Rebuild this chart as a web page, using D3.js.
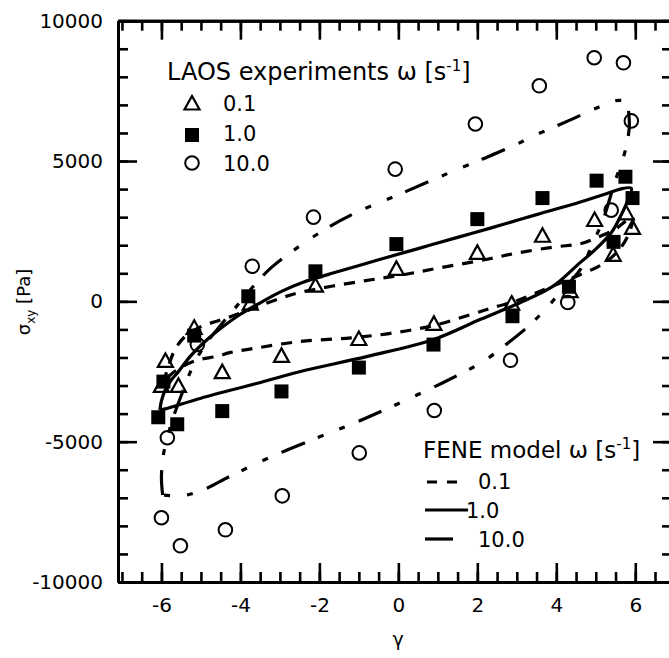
<!DOCTYPE html>
<html>
<head>
<meta charset="utf-8">
<script src="https://cdn.jsdelivr.net/npm/d3@7"></script>
<style>
  body { margin: 0; background: #fff; }
  text { font-family: "DejaVu Sans", "Liberation Sans", Arial, sans-serif; fill: #000; }
</style>
</head>
<body>
<svg id="chart" width="669" height="658"></svg>
<script>
// ---- LAOS experiments (strain gamma, shear stress sigma_xy in Pa) ----
const omegaLabels = ["0.1", "1.0", "10.0"];

const exp01Gamma = [-6.0, -5.9, -5.57, -5.17, -4.46, -3.75, -2.96, -2.1, -1.0, -0.05, 0.9, 2.0, 2.87, 3.65, 4.35, 4.97, 5.44, 5.77, 5.93];
const exp01Sigma = [-3030, -2140, -3030, -960, -2540, -100, -1960, 540, -1360, 1140, -820, 1710, -100, 2320, 350, 2880, 1640, 3120, 2600];

const exp1Gamma = [-6.08, -5.95, -5.6, -5.17, -4.46, -3.8, -2.96, -2.1, -1.0, -0.05, 0.89, 2.0, 2.89, 3.65, 4.32, 5.02, 5.45, 5.75, 5.93];
const exp1Sigma = [-4130, -2860, -4380, -1220, -3910, 180, -3210, 1070, -2360, 2040, -1540, 2930, -530, 3680, 520, 4300, 2120, 4440, 3680];

const exp10Gamma = [-6.0, -5.85, -5.52, -5.09, -4.38, -3.7, -2.94, -2.15, -0.99, -0.08, 0.91, 1.95, 2.84, 3.57, 4.29, 4.96, 5.39, 5.7, 5.9];
const exp10Sigma = [-7710, -4860, -8710, -1540, -8140, 1250, -6930, 3000, -5400, 4710, -3890, 6320, -2100, 7680, -40, 8680, 3250, 8500, 6430];

// ---- FENE model loops, traced as closed (gamma, sigma) paths ----
const fene01 = [
  [-5.95, -2900], [-5.82, -2300], [-5.65, -1700], [-5.4, -1250], [-5.0, -900], [-4.56, -690],
  [-4.0, -420], [-3.11, 50], [-2.48, 320], [-1.0, 700], [0.05, 930], [1.0, 1180], [2.25, 1500],
  [3.0, 1720], [3.97, 1940], [4.6, 2050], [4.99, 2250], [5.49, 2570], [5.75, 2850], [5.93, 3000],
  [5.85, 2450], [5.6, 1850], [5.3, 1450], [5.05, 1230], [4.6, 950], [4.18, 700], [3.59, 360],
  [3.0, 20], [2.5, -180], [2.08, -360], [0.89, -860], [-0.2, -1140], [-1.2, -1300], [-2.48, -1430],
  [-3.8, -1710], [-4.25, -1820], [-4.6, -1960], [-5.1, -2100], [-5.5, -2350], [-5.8, -2650], [-5.95, -2900]
];

const fene1 = [
  [-6.04, -3870], [-6.0, -3550], [-5.9, -3140], [-5.75, -2800], [-5.59, -2540], [-5.27, -1960],
  [-4.84, -1360], [-4.43, -890], [-4.0, -460], [-3.57, -110], [-3.0, 330], [-2.41, 680],
  [-1.5, 1070], [-0.5, 1480], [0.5, 1880], [1.5, 2280], [2.33, 2610], [3.5, 3090], [4.61, 3540],
  [5.3, 3850], [5.62, 4000], [5.9, 4030],
  [5.82, 3640], [5.65, 3100], [5.4, 2460], [5.0, 1860], [4.61, 1390], [3.92, 540], [3.09, -40],
  [2.08, -640], [0.89, -1360], [-0.78, -1960], [-2.48, -2500], [-3.49, -2890], [-5.0, -3450],
  [-5.9, -3830], [-6.04, -3870]
];

const fene10 = [
  [-5.97, -6900], [-6.0, -6250], [-5.95, -5460], [-5.85, -4860], [-5.72, -4210], [-5.44, -3140],
  [-5.2, -2300], [-4.89, -1540], [-4.5, -850], [-4.1, -180], [-3.62, 620], [-3.22, 1200],
  [-2.61, 1860], [-1.85, 2570], [-1.09, 3150], [-0.13, 3720], [0.81, 4290], [1.32, 4600],
  [2.13, 5070], [2.91, 5540], [3.42, 5890], [4.30, 6430], [5.04, 6900], [5.5, 7150], [5.75, 7100],
  [5.85, 6400], [5.8, 5700], [5.70, 5140], [5.49, 4290], [5.19, 2930], [4.95, 2150], [4.61, 1140],
  [4.10, 320], [3.72, -290], [3.29, -890], [2.66, -1610], [2.15, -2140], [1.14, -2890],
  [0.05, -3610], [-1.04, -4290], [-2.05, -4860], [-3.22, -5540], [-4.23, -6210], [-5.0, -6750],
  [-5.5, -6930], [-5.97, -6900]
];

// ---- axis ticks ----
const xMajorTicks = [-6, -4, -2, 0, 2, 4, 6];
const xMinorTicks = d3.range(-7, 7.01, 0.5);
const yMajorTicks = [-10000, -5000, 0, 5000, 10000];
const yMinorTicks = d3.range(-10000, 10001, 1000);

// ---- layout ----
const svg = d3.select("#chart");
const x = d3.scaleLinear().domain([-7.1, 6.93]).range([118, 672]);
const y = d3.scaleLinear().domain([-10000, 10000]).range([582, 20.7]);

const axisStroke = 3;
const majorLen = 19, minorLen = 10;
const plainNum = d => String(d);

function styleAxis(g) {
  g.select(".domain").attr("stroke-width", axisStroke).attr("stroke", "#000");
  g.selectAll(".tick line").attr("stroke-width", 2.6).attr("stroke", "#000");
  g.selectAll(".tick text")
    .style("font-family", '"DejaVu Sans", sans-serif')
    .style("font-size", "20px").attr("fill", "#000");
}

// bottom axis
svg.append("g").attr("transform", `translate(0,${y.range()[0]})`)
  .call(d3.axisBottom(x).tickValues(xMinorTicks).tickSize(-minorLen).tickSizeOuter(0).tickFormat(""))
  .call(styleAxis);
svg.append("g").attr("transform", `translate(0,${y.range()[0]})`)
  .call(d3.axisBottom(x).tickValues(xMajorTicks).tickSize(-majorLen).tickSizeOuter(0).tickPadding(16).tickFormat(plainNum))
  .call(styleAxis);

// top axis
svg.append("g").attr("transform", `translate(0,${y.range()[1]})`)
  .call(d3.axisTop(x).tickValues(xMinorTicks).tickSize(-minorLen).tickSizeOuter(0).tickFormat(""))
  .call(styleAxis);
svg.append("g").attr("transform", `translate(0,${y.range()[1]})`)
  .call(d3.axisTop(x).tickValues(xMajorTicks).tickSize(-majorLen).tickSizeOuter(0).tickFormat(""))
  .call(styleAxis);

// left axis
svg.append("g").attr("transform", `translate(${x.range()[0]},0)`)
  .call(d3.axisLeft(y).tickValues(yMinorTicks).tickSize(-minorLen).tickSizeOuter(0).tickFormat(""))
  .call(styleAxis);
svg.append("g").attr("transform", `translate(${x.range()[0]},0)`)
  .call(d3.axisLeft(y).tickValues(yMajorTicks).tickSize(-majorLen).tickSizeOuter(0).tickPadding(15).tickFormat(plainNum))
  .call(styleAxis);

// right axis
svg.append("g").attr("transform", `translate(${x.range()[1]},0)`)
  .call(d3.axisRight(y).tickValues(yMinorTicks).tickSize(-minorLen).tickSizeOuter(0).tickFormat(""))
  .call(styleAxis);
svg.append("g").attr("transform", `translate(${x.range()[1]},0)`)
  .call(d3.axisRight(y).tickValues(yMajorTicks).tickSize(-majorLen).tickSizeOuter(0).tickFormat(""))
  .call(styleAxis);

// axis titles
svg.append("text")
  .attr("x", 398).attr("y", 646)
  .attr("text-anchor", "middle")
  .attr("fill", "#000")
  .style("font-size", "19px")
  .text("γ");

const yTitle = svg.append("text")
  .attr("transform", "translate(30,302) rotate(-90)")
  .attr("text-anchor", "middle")
  .attr("fill", "#000")
  .style("font-size", "18px");
yTitle.append("tspan").text("σ");
yTitle.append("tspan").attr("dy", 5).style("font-size", "12px").text("xy");
yTitle.append("tspan").attr("dy", -5).text(" [Pa]");

// ---- model curves ----
const lineGen = d3.line()
  .x(d => x(d[0]))
  .y(d => y(d[1]))
  .curve(d3.curveCatmullRom.alpha(0.5));

const dashes = {
  "0.1": "11,9",
  "1.0": null,
  "10.0": "25,15,6,17,6,14"
};
const lineWidth = 3.2;

[[fene01, "0.1"], [fene1, "1.0"], [fene10, "10.0"]].forEach(([pts, key]) => {
  svg.append("path")
    .attr("d", lineGen(pts))
    .attr("fill", "none")
    .attr("stroke", "#000")
    .attr("stroke-width", lineWidth)
    .attr("stroke-dasharray", dashes[key]);
});

// ---- experiment markers ----
function triangle(g, cx, cy) {
  g.append("path")
    .attr("d", `M${cx},${cy - 8}L${cx + 7.5},${cy + 5.5}L${cx - 7.5},${cy + 5.5}Z`)
    .attr("fill", "none").attr("stroke", "#000").attr("stroke-width", 2.2)
    .attr("stroke-linejoin", "miter");
}
function square(g, cx, cy) {
  g.append("rect")
    .attr("x", cx - 7).attr("y", cy - 7).attr("width", 14).attr("height", 14)
    .attr("fill", "#000");
}
function circle(g, cx, cy) {
  g.append("circle")
    .attr("cx", cx).attr("cy", cy).attr("r", 6.8)
    .attr("fill", "none").attr("stroke", "#000").attr("stroke-width", 2);
}

const marks = svg.append("g");
exp10Gamma.forEach((g, i) => circle(marks, x(g), y(exp10Sigma[i])));
exp01Gamma.forEach((g, i) => triangle(marks, x(g), y(exp01Sigma[i])));
exp1Gamma.forEach((g, i) => square(marks, x(g), y(exp1Sigma[i])));

// ---- legend: experiments ----
const leg1 = svg.append("g");
const t1 = leg1.append("text").attr("x", 167).attr("y", 80).style("font-size", "24px");
t1.append("tspan").text("LAOS experiments ω [s");
t1.append("tspan").attr("dy", -9).style("font-size", "15px").text("-1");
t1.append("tspan").attr("dy", 9).text("]");

const leg1Rows = [
  { label: omegaLabels[0], draw: (cx, cy) => triangle(leg1, cx, cy), cy: 104, ty: 111 },
  { label: omegaLabels[1], draw: (cx, cy) => square(leg1, cx, cy), cy: 135, ty: 141 },
  { label: omegaLabels[2], draw: (cx, cy) => circle(leg1, cx, cy), cy: 163, ty: 171 }
];
leg1Rows.forEach(r => {
  r.draw(192, r.cy);
  leg1.append("text").attr("x", 223).attr("y", r.ty).style("font-size", "21px").text(r.label);
});

// ---- legend: FENE model ----
const leg2 = svg.append("g");
const t2 = leg2.append("text").attr("x", 423).attr("y", 458).style("font-size", "23px");
t2.append("tspan").text("FENE model ω [s");
t2.append("tspan").attr("dy", -9).style("font-size", "15px").text("-1");
t2.append("tspan").attr("dy", 9).text("]");

const leg2Rows = [
  { label: omegaLabels[0], key: "0.1", x1: 427, x2: 457, ly: 482, tx: 478, ty: 489 },
  { label: omegaLabels[1], key: "1.0", x1: 425, x2: 468, ly: 510, tx: 466, ty: 518 },
  { label: omegaLabels[2], key: "10.0", x1: 425, x2: 453, ly: 539, tx: 478, ty: 547 }
];
leg2Rows.forEach(r => {
  leg2.append("line")
    .attr("x1", r.x1).attr("x2", r.x2).attr("y1", r.ly).attr("y2", r.ly)
    .attr("stroke", "#000").attr("stroke-width", lineWidth)
    .attr("stroke-dasharray", r.key === "0.1" ? "10,10" : null);
  leg2.append("text").attr("x", r.tx).attr("y", r.ty).style("font-size", "21px").text(r.label);
});
</script>
</body>
</html>
